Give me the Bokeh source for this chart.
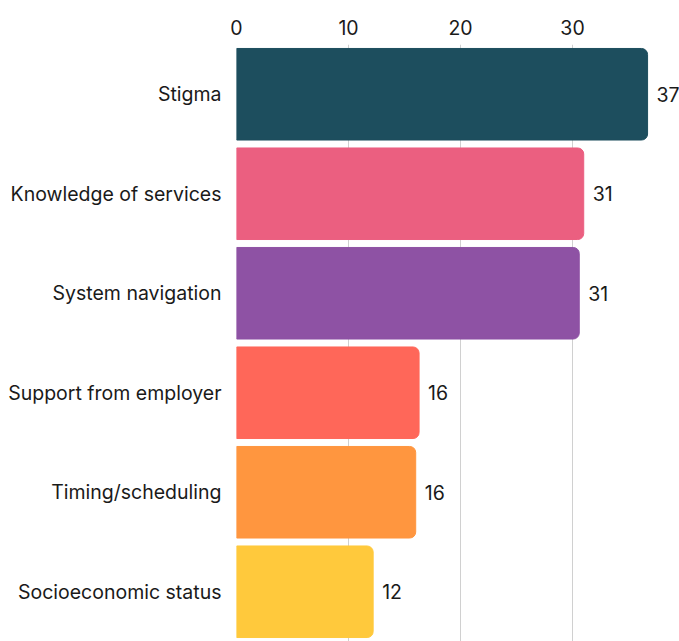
from bokeh.plotting import figure
from bokeh.models import ColumnDataSource, FactorRange, Range1d, FixedTicker
from bokeh.core.properties import value
from bokeh.embed import file_html
from bokeh.resources import INLINE

categories = ["Stigma", "Knowledge of services", "System navigation",
              "Support from employer", "Timing/scheduling", "Socioeconomic status"]
values = [36.7, 31.0, 30.6, 16.3, 16.0, 12.2]
value_labels = ["37", "31", "31", "16", "16", "12"]
colors = ["#1d4e5e", "#eb5f80", "#8e52a4", "#ff6759", "#ff963f", "#ffc93c"]
x_ticks = [0, 10, 20, 30]

FONT = "Inter"
FSIZE = "19.5px"

src = ColumnDataSource(dict(cat=categories, val=values, lab=value_labels, col=colors))

p = figure(width=679, height=641, output_backend="svg", toolbar_location=None,
           y_range=FactorRange(factors=categories[::-1], range_padding=0),
           x_range=Range1d(0, 39.55), x_axis_location="above",
           min_border_left=236, min_border_right=0, min_border_top=44, min_border_bottom=0)

p.hbar(y="cat", right="val", left=0, height=0.92, color="col", source=src,
       border_radius=(0, 6, 6, 0))
p.text(x="val", y="cat", text="lab", source=src, x_offset=9,
       text_font=value(FONT), text_font_size=FSIZE, text_color="#1a1a1a",
       text_align="left", text_baseline="middle")

p.outline_line_color = None
p.ygrid.grid_line_color = None
p.xgrid.grid_line_color = "#d0d0d0"
p.xgrid.grid_line_width = 1
p.xgrid.ticker = FixedTicker(ticks=x_ticks)
p.grid.level = "underlay"

xa = p.xaxis[0]
xa.ticker = FixedTicker(ticks=x_ticks)
xa.axis_line_color = None
xa.major_tick_line_color = None
xa.minor_tick_line_color = None
xa.major_label_text_font = FONT
xa.major_label_text_font_size = FSIZE
xa.major_label_text_color = "#1a1a1a"
xa.major_label_standoff = 4

ya = p.yaxis[0]
ya.axis_line_color = None
ya.major_tick_line_color = None
ya.minor_tick_line_color = None
ya.major_label_text_font = FONT
ya.major_label_text_font_size = FSIZE
ya.major_label_text_color = "#1a1a1a"
ya.major_label_standoff = 9

open("out.html", "w").write(file_html(p, INLINE))
